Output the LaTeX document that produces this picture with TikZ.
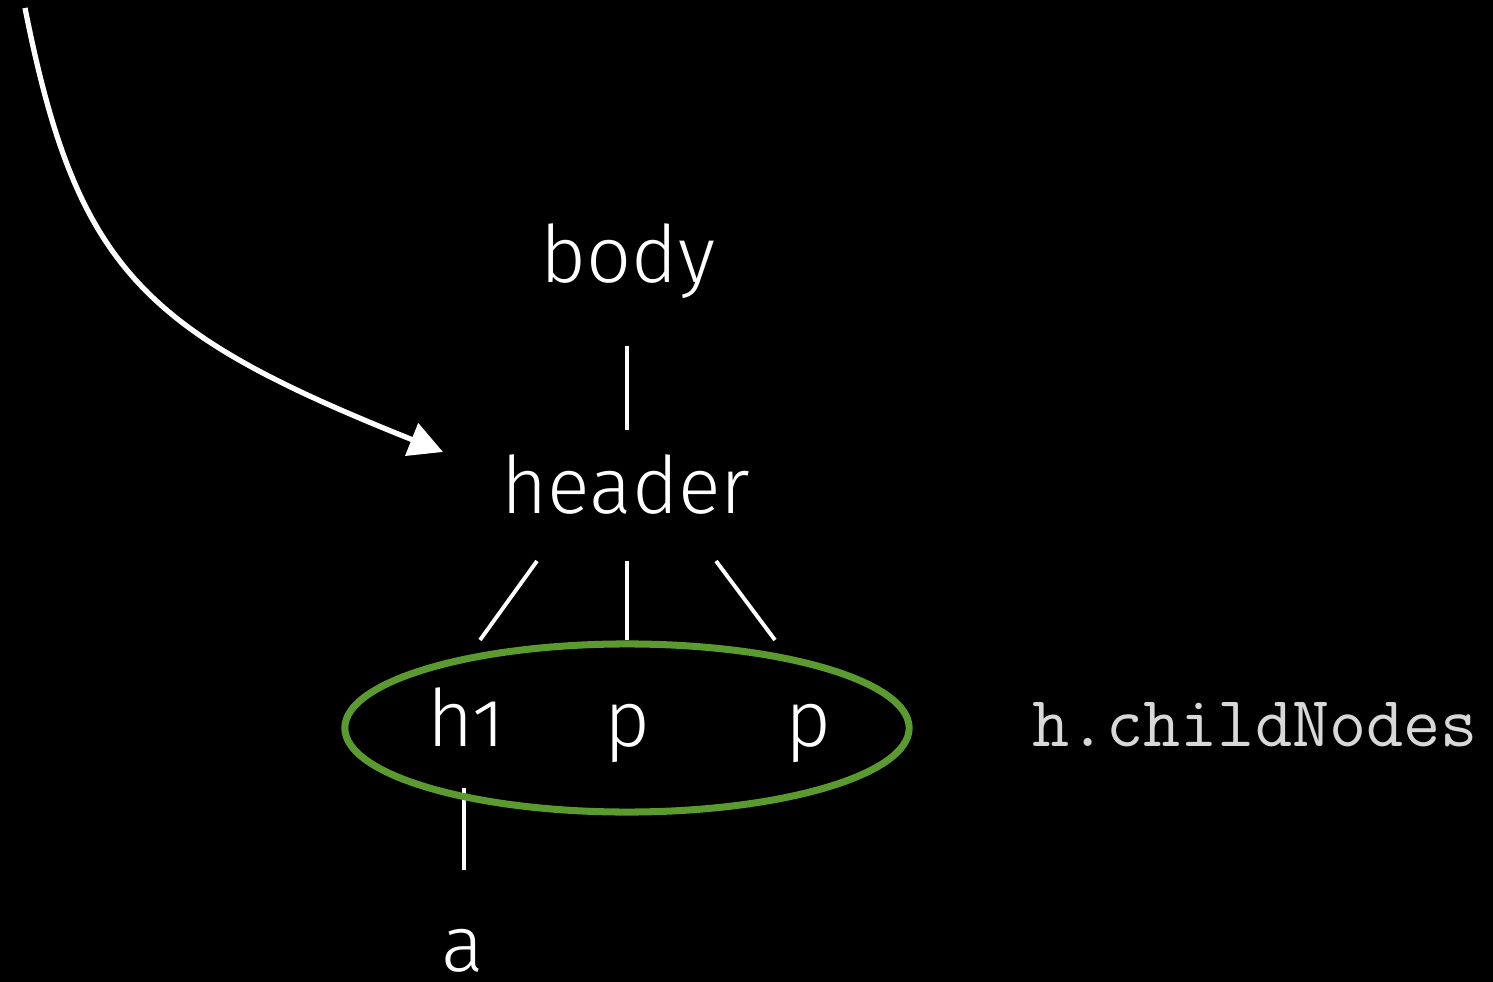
\documentclass[tikz,border=0pt]{standalone}
\usepackage{fontspec}
\setmainfont{Fira Sans}[UprightFont={* Light},Numbers=OldStyle]
\usetikzlibrary{arrows.meta,shapes.geometric}
\definecolor{ringgreen}{HTML}{5A9A2E}
\definecolor{codegray}{HTML}{D8D8D8}
\begin{document}
\begin{tikzpicture}[x=0.01cm,y=-0.01cm,
  tag/.style={text=white,font=\fontsize{22.5}{27}\selectfont,inner sep=0pt,anchor=base},
  edge/.style={draw=white,line width=1.1pt},
  code/.style={text=codegray,font=\ttfamily\fontsize{20.5}{24}\selectfont,inner sep=0pt,anchor=base}]
  \fill[black] (0,0) rectangle (1493,982);
  \useasboundingbox (0,0) rectangle (1493,982);
  % tree labels
  \node[tag] (body) at (628,283) {body};
  \node[tag] (header) at (626,514) {header};
  \node[tag] (h1) at (466,746) {h1};
  \node[tag] (p1) at (627,746) {p};
  \node[tag] (p2) at (808,746) {p};
  \node[tag] (a) at (463,971) {a};
  \node[code] (cn) at (1255,746) {h.childNodes};
  % edge end points
  \coordinate (bt) at (627,346); \coordinate (bb) at (627,430);
  \coordinate (l1) at (537,561); \coordinate (l2) at (480,640);
  \coordinate (m1) at (627,561); \coordinate (m2) at (627,640);
  \coordinate (r1) at (716,561); \coordinate (r2) at (775,640);
  \coordinate (at) at (464,788); \coordinate (ab) at (464,870);
  \draw[edge] (bt) -- (bb);
  \draw[edge] (l1) -- (l2);
  \draw[edge] (m1) -- (m2);
  \draw[edge] (r1) -- (r2);
  \draw[edge] (at) -- (ab);
  % highlight around the children
  \node[draw=ringgreen,line width=2pt,ellipse,inner sep=0pt,
        minimum width=5.64cm,minimum height=1.68cm] (ring) at (627,728) {};
  % pointer arrow
  \coordinate (start) at (25,8);
  \coordinate (tip) at (443,452);
  \draw[white,line width=1.5pt,-{Triangle[length=9.6pt,width=9.7pt]}]
    (start) .. controls (77,270) and (143,332) .. (tip);
\end{tikzpicture}
\end{document}
